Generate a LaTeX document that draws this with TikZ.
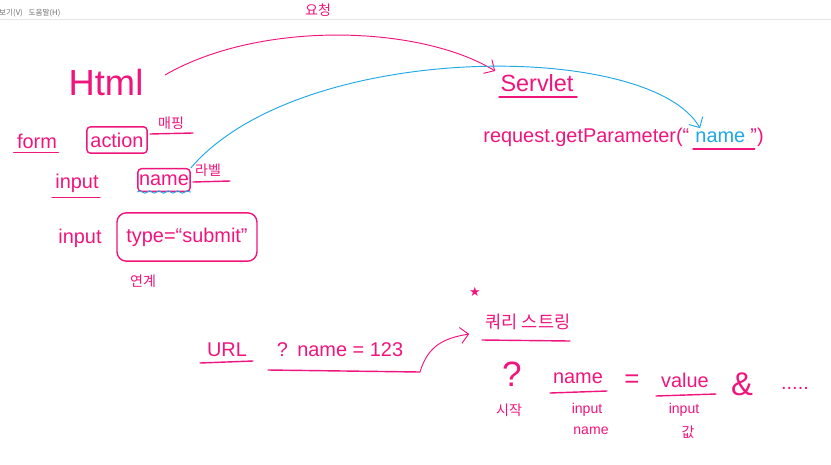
\documentclass[tikz,border=0pt]{standalone}
\usepackage{fontspec}
\setmainfont{Liberation Sans}
\newfontfamily\kr{Noto Sans CJK KR}
\newfontfamily\sym{DejaVu Sans}
\usetikzlibrary{arrows.meta,positioning,calc,decorations.pathmorphing}
\definecolor{Pen}{HTML}{F0157D}
\definecolor{Marker}{HTML}{1FA8E4}
\definecolor{Chrome}{HTML}{707070}
\definecolor{Rule}{HTML}{E6E6E6}
\tikzset{
  ink/.style={text=Pen,font=\fontsize{17}{18}\selectfont,inner sep=1pt},
  inkbig/.style={ink,font=\fontsize{31}{33}\selectfont},
  inksmall/.style={ink,font=\fontsize{12}{13}\selectfont},
  note/.style={text=Pen,font=\kr\fontsize{12}{13}\selectfont,inner sep=1pt},
  tagbox/.style={ink,draw=Pen,very thick,rounded corners=3pt,inner xsep=3pt,inner ysep=5pt},
  uline/.style={draw=Pen,very thick,line cap=round},
  penArrow/.style={-{Straight Barb[length=2.4mm]},thick,draw=Pen},
  blueArrow/.style={-{Straight Barb[length=2.4mm]},thick,draw=Marker},
  chrome/.style={text=Chrome,font=\kr\fontsize{6.5}{7}\selectfont,inner sep=0pt}
}

\begin{document}
\begin{tikzpicture}[x=0.03cm,y=-0.03cm]
\useasboundingbox[fill=white] (0,0) rectangle (831,464);
% window chrome
\node[chrome,anchor=west] (menu) at (-1,13) {보기(V)\hspace{5pt}도움말(H)};
\draw[Rule] (0,19) -- (831,19);

% html side
\node[inkbig] (html) at (106,82) {Html};
\node[ink] (form) at (37,141) {form};
\draw[uline] ($(form.south west)+(-2,3)$) -- ($(form.south east)+(0,3)$);
\node[tagbox] (action) at (117,140) {action};
\node[note] (mapnote) at (171,123) {매핑};
\draw[uline] (150,134) -- (193,133);
\node[ink] (input1) at (77,183) {input};
\draw[uline] ($(input1.south west)+(-2,4)$) -- ($(input1.south east)+(0,4)$);
\node[tagbox,inner xsep=1pt] (namebox) at (164,180) {name};
\node[note] (labelnote) at (208,170) {라벨};
\draw[uline] (193,182) -- (230,181);
\node[ink] (input2) at (80,238) {input};
\node[tagbox,rounded corners=8pt,minimum width=4.2cm,minimum height=1.45cm] (submit) at (187,237) {type=“submit”};
\node[note] (linknote) at (143,281) {연계};

% servlet side
\node[ink,font=\fontsize{20}{22}\selectfont] (servlet) at (537,83) {Servlet};
\draw[uline] (499,97) -- (577,97);
\node[ink] (reqL) at (588,137) {request.getParameter(“\,};
\node[ink,text=Marker,right=0pt of reqL] (pname) {name};
\node[ink,right=2pt of pname] (reqR) {”)};
\draw[uline] ($(pname.south west)+(-1,5)$) -- ($(pname.south east)+(8,5)$);

% connectors
\coordinate (htmlend) at (165,75);
\draw[penArrow] (htmlend) .. controls (260,20) and (420,25) .. ($(servlet.west)+(-4,-12)$);
\node[note] (reqnote) at (318,10) {요청};
\draw[Marker,thick,decorate,decoration={snake,amplitude=1pt,segment length=8pt}] (namebox.south west) -- (namebox.south east);
\draw[blueArrow] (namebox.north east) .. controls (300,40) and (650,40) .. ($(pname.north west)+(6,-2)$);

% query string
\node[ink] (url) at (227,350) {URL};
\draw[uline] (200,363) -- (253,361);
\node[ink] (query) at (340,350) {?\hspace{8pt}name = 123};
\draw[uline] (268,370) -- (420,372);
\node[ink,text=Pen,font=\sym\fontsize{11}{12}\selectfont] (star) at (475,292) {★};
\node[note,font=\kr\fontsize{15}{16}\selectfont] (qstitle) at (528,322) {쿼리 스트링};
\draw[uline] (482,340) -- (570,341);
\coordinate (qsend) at (420,372);
\draw[penArrow] (qsend) .. controls (428,345) and (445,338) .. ($(qstitle.west)+(-15,12)$);

\node[ink,font=\fontsize{30}{32}\selectfont] (qmark) at (512,374) {?};
\node[note] (startnote) at (509,410) {시작};
\node[ink] (keyname) at (578,378) {name};
\draw[uline] (550,393) -- (607,391);
\node[inksmall] (keyin) at (587,410) {input};
\node[inksmall] (keysub) at (591,431) {name};
\node[ink,font=\fontsize{22}{24}\selectfont] (eqsign) at (632,381) {=};
\node[ink] (valname) at (685,380) {value};
\draw[uline] (656,396) -- (716,394);
\node[inksmall] (valin) at (684,410) {input};
\node[note] (valsub) at (688,432) {값};
\node[ink,font=\fontsize{28}{30}\selectfont] (amp) at (742,384) {\&};
\node[ink] (dots) at (795,388) {.....};
\end{tikzpicture}
\end{document}
